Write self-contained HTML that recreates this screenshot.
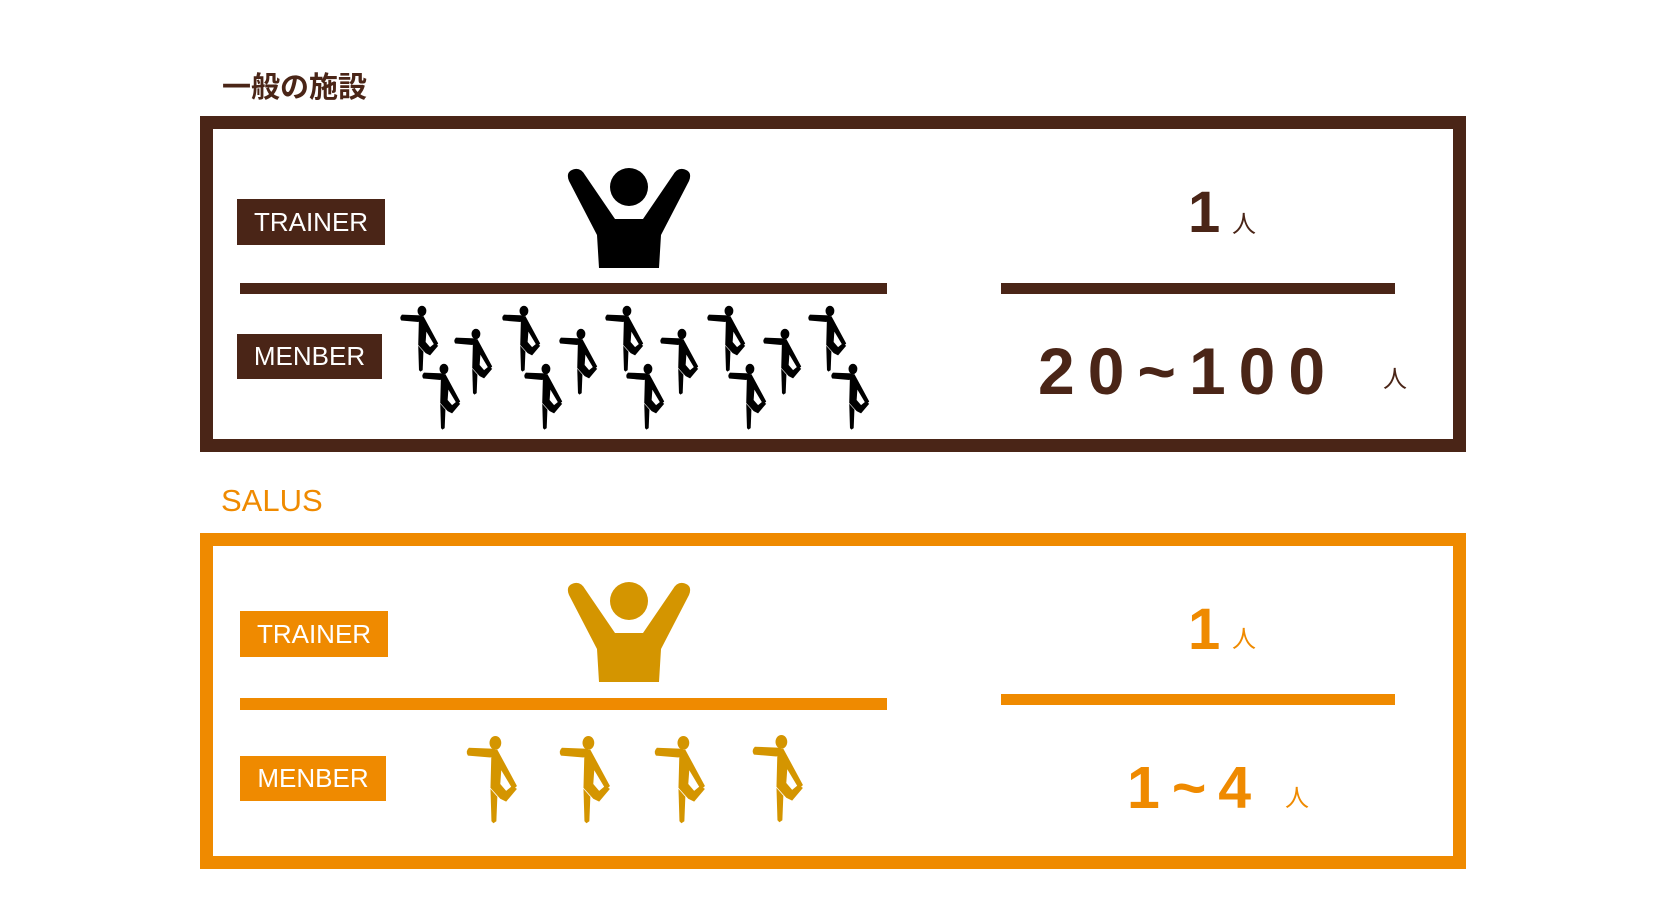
<!DOCTYPE html>
<html><head><meta charset="utf-8"><style>
html,body{margin:0;padding:0;background:#fff;}
body{width:1664px;height:922px;position:relative;overflow:hidden;font-family:"Liberation Sans","Noto Sans CJK JP",sans-serif;}
.a{position:absolute;}
.lbl{position:absolute;color:#fff;font-size:26px;display:flex;align-items:center;justify-content:center;}
.num{position:absolute;font-weight:900;font-family:"Liberation Sans","Noto Sans CJK JP",sans-serif;white-space:nowrap;line-height:1;}
.nin{position:absolute;font-size:24px;line-height:1;font-family:"Noto Sans CJK JP",sans-serif;}
</style></head><body>
<svg width="0" height="0" style="position:absolute">
<defs>
<g id="tr">
<circle cx="66" cy="20" r="19"/>
<path d="M6 14 Q2 4 12 2 Q18 1 22 8 L52 52 L80 52 L110 8 Q114 1 120 2 Q130 4 126 14 L98 68 L96 101 L36 101 L34 68 Z"/>
</g>
<g id="mb">
<ellipse cx="31" cy="8" rx="6" ry="7"/>
<path d="M4 13 L30 14 L33 19 L26 23 L3 21 Q0 17 4 13 Z"/>
<path d="M27 15 L33 15 L53 52 L49 56 L37 36 L36 50 L42 57 L48 52 L53 55 L42 68 L36 65 L26 54 Z"/>
<path d="M26 55 L33 63 L32 88 L29 90 L27 88 Z"/>
</g>
</defs>
</svg>

<div class="a" style="left:222px;top:68px;font-size:29px;font-weight:bold;color:#4a2517;font-family:'Noto Sans CJK JP',sans-serif;line-height:1.2">一般の施設</div>
<div class="a" style="left:200px;top:116px;width:1240px;height:310px;border:13px solid #4a2517;"></div>
<div class="lbl" style="left:237px;top:199px;width:148px;height:46px;background:#4a2517">TRAINER</div>
<div class="lbl" style="left:237px;top:334px;width:145px;height:45px;background:#4a2517">MENBER</div>
<div class="a" style="left:240px;top:283px;width:647px;height:11px;background:#4a2517"></div>
<div class="a" style="left:1001px;top:283px;width:394px;height:11px;background:#4a2517"></div>
<div class="num" style="left:1188px;top:184px;font-size:58px;color:#4a2517">1</div>
<div class="nin" style="left:1232px;top:210px;color:#4a2517">人</div>
<div class="num" style="left:1038px;top:338px;font-size:66px;color:#4a2517;letter-spacing:13px">20~100</div>
<div class="nin" style="left:1383px;top:365px;color:#4a2517">人</div>

<svg class="a" style="left:0;top:0" width="1664" height="922">
<use href="#tr" transform="translate(563,167)" fill="#000"/>
<g fill="#000">
<use href="#mb" transform="translate(399,305) scale(0.74)"/>
<use href="#mb" transform="translate(501,305) scale(0.74)"/>
<use href="#mb" transform="translate(604,305) scale(0.74)"/>
<use href="#mb" transform="translate(706,305) scale(0.74)"/>
<use href="#mb" transform="translate(807,305) scale(0.74)"/>
<use href="#mb" transform="translate(453,328) scale(0.74)"/>
<use href="#mb" transform="translate(558,328) scale(0.74)"/>
<use href="#mb" transform="translate(659,328) scale(0.74)"/>
<use href="#mb" transform="translate(762,328) scale(0.74)"/>
<use href="#mb" transform="translate(421,363) scale(0.74)"/>
<use href="#mb" transform="translate(523,363) scale(0.74)"/>
<use href="#mb" transform="translate(625,363) scale(0.74)"/>
<use href="#mb" transform="translate(727,363) scale(0.74)"/>
<use href="#mb" transform="translate(830,363) scale(0.74)"/>
</g>
<use href="#tr" transform="translate(563,581)" fill="#d49500"/>
<g fill="#d49500">
<use href="#mb" transform="translate(465,735) scale(0.98)"/>
<use href="#mb" transform="translate(558,735) scale(0.98)"/>
<use href="#mb" transform="translate(653,735) scale(0.98)"/>
<use href="#mb" transform="translate(751,734) scale(0.98)"/>
</g>
</svg>

<div class="a" style="left:221px;top:484px;font-size:31px;color:#ef8a00;line-height:1.1">SALUS</div>
<div class="a" style="left:200px;top:533px;width:1240px;height:310px;border:13px solid #ef8a00;"></div>
<div class="lbl" style="left:240px;top:611px;width:148px;height:46px;background:#ef8a00">TRAINER</div>
<div class="lbl" style="left:240px;top:756px;width:146px;height:45px;background:#ef8a00">MENBER</div>
<div class="a" style="left:240px;top:698px;width:647px;height:12px;background:#ef8a00"></div>
<div class="a" style="left:1001px;top:694px;width:394px;height:11px;background:#ef8a00"></div>
<div class="num" style="left:1188px;top:601px;font-size:58px;color:#ef8a00">1</div>
<div class="nin" style="left:1232px;top:625px;color:#ef8a00">人</div>
<div class="num" style="left:1127px;top:759px;font-size:59px;color:#ef8a00;letter-spacing:12px">1~4</div>
<div class="nin" style="left:1285px;top:784px;color:#ef8a00">人</div>
</body></html>
